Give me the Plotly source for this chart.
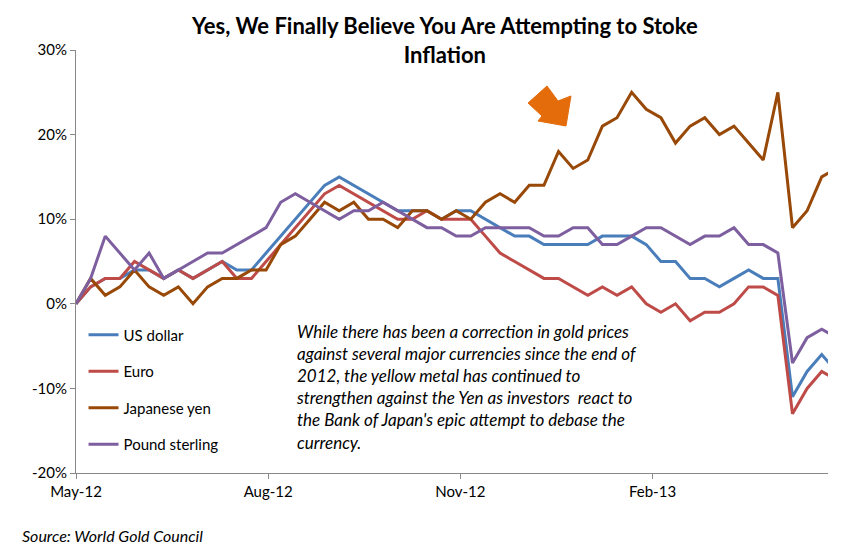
import pandas as pd
import plotly.graph_objects as go

dates = pd.date_range("2012-05-01", periods=53, freq="7D")

usd = [0,2,3,3,4,4,3,4,3,4,5,4,4,6,8,10,12,14,15,14,13,12,11,11,11,10,11,11,10,9,8,8,7,7,7,7,8,8,8,7,5,5,3,3,2,3,4,3,3,-11,-8,-6,-8]
eur = [0,2,3,3,5,4,3,4,3,4,5,3,3,5,7,9,11,13,14,13,12,11,10,10,11,10,10,10,8,6,5,4,3,3,2,1,2,1,2,0,-1,0,-2,-1,-1,0,2,2,1,-13,-10,-8,-9]
yen = [0,3,1,2,4,2,1,2,0,2,3,3,4,4,7,8,10,12,11,12,10,10,9,11,11,10,11,10,12,13,12,14,14,18,16,17,21,22,25,23,22,19,21,22,20,21,19,17,25,9,11,15,16]
gbp = [0,3,8,6,4,6,3,4,5,6,6,7,8,9,12,13,12,11,10,11,11,12,11,10,9,9,8,8,9,9,9,9,8,8,9,9,7,7,8,9,9,8,7,8,8,9,7,7,6,-7,-4,-3,-4]
yticks = [-20, -10, 0, 10, 20, 30]

names = ["US dollar", "Euro", "Japanese yen", "Pound sterling"]
colors = ["#4a7ebb", "#be4b48", "#984807", "#7d5fa0"]
series = [usd, eur, yen, gbp]

fig = go.Figure()
for i, (n, c, s) in enumerate(zip(names, colors, series)):
    fig.add_trace(go.Scatter(x=dates, y=s, name=n, mode="lines",
                             line=dict(color=c, width=3), legendgroup=str(i)))

fig.update_layout(
    width=863, height=546, plot_bgcolor="white", paper_bgcolor="white",
    margin=dict(l=68, r=43, t=42, b=81),
    font=dict(family="Lato, Open Sans, sans-serif", size=15, color="black"),
    legend=dict(x=0.01, y=0.365, xanchor="left", yanchor="top", tracegroupgap=14,
                bgcolor="rgba(0,0,0,0)", font=dict(size=15)),
    xaxis=dict(range=["2012-05-01", "2013-04-26"], showgrid=False, showline=True,
               linecolor="#888", tickvals=["2012-05-01", "2012-08-01", "2012-11-01", "2013-02-01"],
               tickformat="%b-%y", ticks="outside", ticklen=5, tickcolor="#888", zeroline=False),
    yaxis=dict(range=[-20, 30], tickvals=yticks, ticktext=[f"{v}%" for v in yticks],
               showgrid=False, showline=True, linecolor="#888", ticks="outside",
               ticklen=5, tickcolor="#888", zeroline=False),
)
fig.add_annotation(xref="paper", yref="paper", x=0.49, y=1.0, yshift=40, xanchor="center", yanchor="top",
                   showarrow=False, font=dict(size=22),
                   text="<b>Yes, We Finally Believe You Are Attempting to Stoke<br>Inflation</b>")
fig.add_annotation(xref="paper", yref="paper", x=0.29, y=0.365, xanchor="left", yanchor="top",
                   align="left", showarrow=False, font=dict(size=17),
                   text="<i>While there has been a correction in gold prices<br>against several major currencies since the end of<br>2012, the yellow metal has continued to<br>strengthen against the Yen as investors  react to<br>the Bank of Japan's epic attempt to debase the<br>currency.</i>")
fig.add_annotation(xref="paper", yref="paper", x=-0.075, y=-0.12, xanchor="left", yanchor="top",
                   showarrow=False, font=dict(size=16), text="<i>Source: World Gold Council</i>")

def p(px, py):
    return f"{(px-68)/752:.4f},{(465-py)/423:.4f}"
pts = [(520,95),(539,78),(550,93),(563,88),(558,118),(530,113),(534,108)]
path = "M " + " L ".join(p(*q) for q in pts) + " Z"
fig.add_shape(type="path", xref="paper", yref="paper", path=path,
              fillcolor="#e46c0a", line=dict(color="#e46c0a", width=1))
fig.write_html("out.html")
